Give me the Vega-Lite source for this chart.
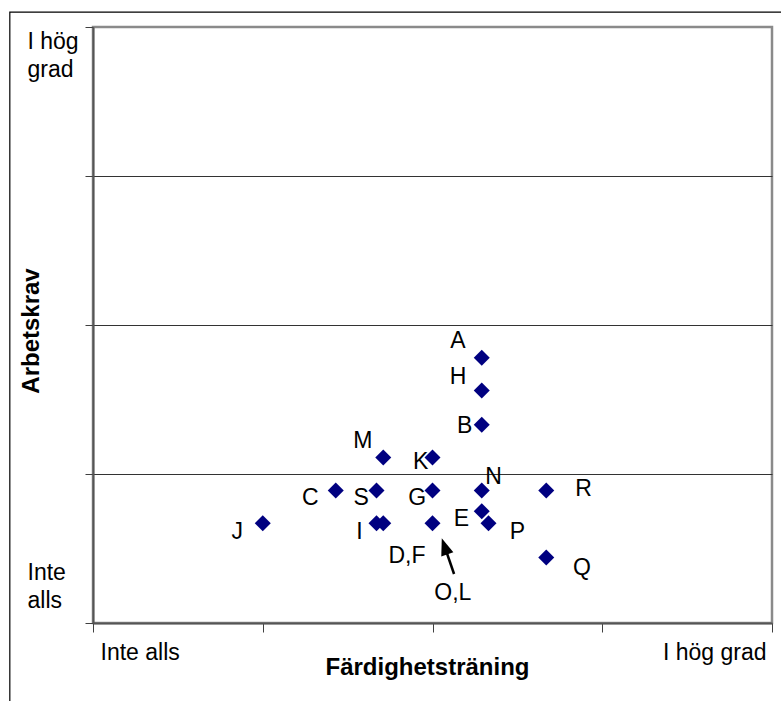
{
  "$schema": "https://vega.github.io/schema/vega-lite/v6.json",
  "width": 679,
  "height": 596,
  "autosize": {"type": "none"},
  "padding": {"left": 93, "top": 27, "right": 9, "bottom": 78},
  "background": "white",
  "config": {
    "view": {"stroke": "#8a8a8a", "strokeWidth": 2.5},
    "font": "Liberation Sans",
    "text": {"font": "Liberation Sans"}
  },
  "datasets": {
    "points": [
      {"id": "A", "x": 2.29, "y": 1.78},
      {"id": "H", "x": 2.29, "y": 1.56},
      {"id": "B", "x": 2.29, "y": 1.33},
      {"id": "M", "x": 1.71, "y": 1.11},
      {"id": "K", "x": 2.0, "y": 1.11},
      {"id": "C", "x": 1.43, "y": 0.89},
      {"id": "S", "x": 1.67, "y": 0.89},
      {"id": "G", "x": 2.0, "y": 0.89},
      {"id": "N", "x": 2.29, "y": 0.89},
      {"id": "R", "x": 2.67, "y": 0.89},
      {"id": "E", "x": 2.29, "y": 0.75},
      {"id": "P", "x": 2.33, "y": 0.67},
      {"id": "J", "x": 1.0, "y": 0.67},
      {"id": "I", "x": 1.67, "y": 0.67},
      {"id": "I2", "x": 1.71, "y": 0.67},
      {"id": "D,F,O,L", "x": 2.0, "y": 0.67},
      {"id": "Q", "x": 2.67, "y": 0.44}
    ],
    "labels": [
      {"label": "A", "x": 2.15, "y": 1.89},
      {"label": "H", "x": 2.15, "y": 1.65},
      {"label": "B", "x": 2.19, "y": 1.32},
      {"label": "M", "x": 1.59, "y": 1.22},
      {"label": "K", "x": 1.93, "y": 1.08},
      {"label": "N", "x": 2.36, "y": 0.98},
      {"label": "S", "x": 1.58, "y": 0.84},
      {"label": "G", "x": 1.91, "y": 0.84},
      {"label": "R", "x": 2.89, "y": 0.9},
      {"label": "E", "x": 2.17, "y": 0.7},
      {"label": "P", "x": 2.5, "y": 0.61},
      {"label": "I", "x": 1.57, "y": 0.61},
      {"label": "D,F", "x": 1.85, "y": 0.45},
      {"label": "O,L", "x": 2.12, "y": 0.2},
      {"label": "Q", "x": 2.88, "y": 0.37},
      {"label": "C", "x": 1.28, "y": 0.84},
      {"label": "J", "x": 0.85, "y": 0.61}
    ],
    "arrow": [
      {"end": "tail", "x": 2.127, "y": 0.329},
      {"end": "head", "x": 2.071, "y": 0.515}
    ],
    "frame": [
      {"x": -0.49, "x2": 4.3, "y": 4.1, "y2": -0.7}
    ]
  },
  "encoding": {
    "x": {
      "field": "x",
      "type": "quantitative",
      "scale": {"domain": [0, 4], "nice": false, "zero": false},
      "axis": {
        "values": [0, 1, 2, 3, 4],
        "labelExpr": "datum.value == 0 ? 'Inte alls' : datum.value == 4 ? 'I hög grad' : ''",
        "labelAlign": {"condition": {"test": "datum.value == 0", "value": "left"}, "value": "right"},
        "labelOffset": {"condition": {"test": "datum.value == 0", "value": 7}, "value": -6},
        "labelBaseline": "top",
        "labelFontSize": 23,
        "labelColor": "black",
        "labelPadding": 9,
        "labelOverlap": false,
        "labelBound": false,
        "labelFlush": false,
        "tickSize": 9,
        "tickColor": "#404040",
        "tickWidth": 1,
        "domainColor": "#555555",
        "domainWidth": 2,
        "grid": false,
        "title": "Färdighetsträning",
        "titleFontSize": 24,
        "titleFontWeight": "bold",
        "titleColor": "black",
        "titleX": 334,
        "titleY": 51,
        "titleBaseline": "alphabetic",
        "titleAlign": "center"
      }
    },
    "y": {
      "field": "y",
      "type": "quantitative",
      "scale": {"domain": [0, 4], "nice": false, "zero": false},
      "axis": {
        "values": [0, 1, 2, 3, 4],
        "labelExpr": "datum.value == 0 ? ['Inte', 'alls'] : datum.value == 4 ? ['I hög', 'grad'] : ''",
        "labelAlign": "left",
        "labelBaseline": {"condition": {"test": "datum.value == 0", "value": "bottom"}, "value": "top"},
        "labelOffset": {"condition": {"test": "datum.value == 0", "value": -39}, "value": 3},
        "labelPadding": 58,
        "labelLineHeight": 28,
        "labelFontSize": 23,
        "labelColor": "black",
        "labelOverlap": false,
        "labelBound": false,
        "labelFlush": false,
        "tickSize": 8,
        "tickColor": "#404040",
        "domainColor": "#555555",
        "domainWidth": 2,
        "grid": true,
        "gridColor": "#333333",
        "gridWidth": 1,
        "gridOpacity": {"condition": {"test": "datum.value == 0 || datum.value == 4", "value": 0}, "value": 1},
        "title": "Arbetskrav",
        "titleFontSize": 24,
        "titleFontWeight": "bold",
        "titleColor": "black",
        "titleX": -55,
        "titleY": 303.5,
        "titleAngle": -90,
        "titleBaseline": "alphabetic",
        "titleAlign": "center"
      }
    }
  },
  "layer": [
    {
      "data": {"name": "frame"},
      "mark": {"type": "rect", "filled": false, "color": "black", "strokeWidth": 1.2, "clip": false},
      "encoding": {
        "x2": {"field": "x2"},
        "y2": {"field": "y2"}
      }
    },
    {
      "data": {"name": "points"},
      "mark": {"type": "point", "shape": "diamond", "filled": true, "color": "#000080", "size": 256, "opacity": 1}
    },
    {
      "data": {"name": "labels"},
      "mark": {"type": "text", "fontSize": 23, "color": "black", "align": "center", "baseline": "middle"},
      "encoding": {"text": {"field": "label", "type": "nominal"}}
    },
    {
      "data": {"name": "arrow"},
      "mark": {"type": "line", "color": "black", "strokeWidth": 2.5},
      "encoding": {}
    },
    {
      "data": {"name": "arrow"},
      "transform": [{"filter": "datum.end == 'head'"}],
      "mark": {"type": "point", "shape": "M0,-1L0.75,1L-0.75,1Z", "filled": true, "color": "black", "size": 289, "angle": 341, "opacity": 1}
    }
  ]
}
